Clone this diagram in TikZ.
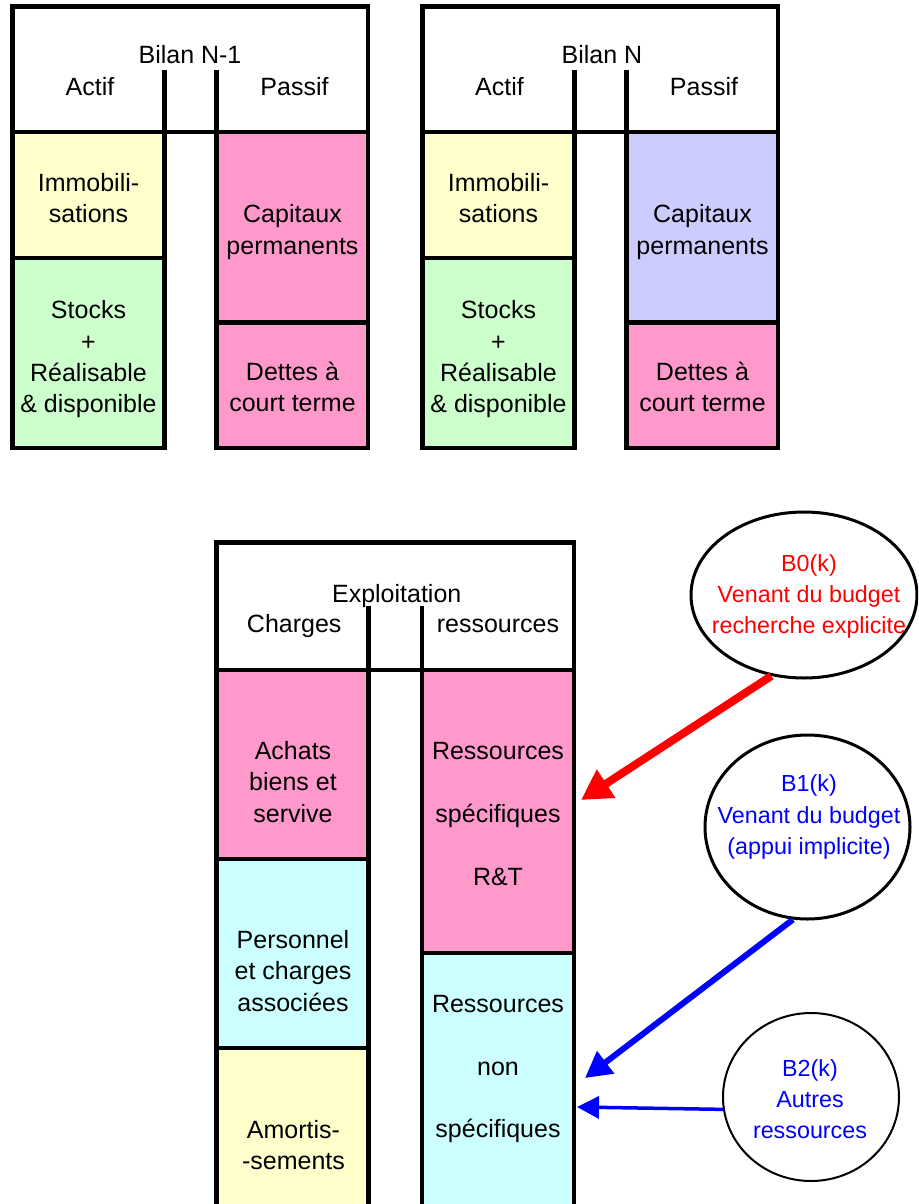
\documentclass[tikz,border=0pt]{standalone}
\usepackage{fontspec}
\setmainfont{Liberation Sans}
\usetikzlibrary{arrows.meta,shapes.geometric,fit}
\definecolor{cyel}{HTML}{FFFFCC}
\definecolor{cgrn}{HTML}{CCFFCC}
\definecolor{cpnk}{HTML}{FF99CC}
\definecolor{ccyn}{HTML}{CCFFFF}
\definecolor{clav}{HTML}{CCCCFF}
\definecolor{cred}{HTML}{FF0000}
\definecolor{cblu}{HTML}{0000FF}
\begin{document}
\begin{tikzpicture}[x=1pt,y=-1pt,
  cell/.style={draw=black, line width=4.5pt, inner sep=0pt, outer sep=0pt},
  divider/.style={draw=black, line width=4.5pt},
  txt/.style={align=center, inner sep=0pt, font=\fontsize{25}{31.3}\selectfont},
  wide/.style={align=center, inner sep=0pt, font=\fontsize{25}{62.8}\selectfont},
  ttl/.style={anchor=base, inner sep=0pt, font=\fontsize{25}{30}\selectfont},
  bubble/.style={ellipse, draw=black, line width=3pt, inner sep=0pt},
  btxt/.style={align=center, inner sep=0pt, font=\fontsize{23.3}{31.2}\selectfont},
]
\path[use as bounding box] (0,0) rectangle (918,1204);
\clip (0,0) rectangle (918,1204);

% ---------------- Bilan N-1 ----------------
\node[cell, fill=white, fit={(12.5,6.5) (368,132)}] (hdrA) {};
\draw[divider] (164.5,70) -- (164.5,132);
\draw[divider] (216.5,70) -- (216.5,132);
\node[cell, fill=cyel, fit={(12.5,132) (164.5,258)}] (immoA) {};
\node[cell, fill=cgrn, fit={(12.5,258) (164.5,448)}] (stockA) {};
\node[cell, fill=cpnk, fit={(216.5,132) (368,322.5)}] (capA) {};
\node[cell, fill=cpnk, fit={(216.5,322.5) (368,448)}] (detteA) {};
\node[ttl] (titleA) at (190,64) {Bilan N-1};
\node[ttl] (actifA) at (90,96) {Actif};
\node[ttl] (passifA) at (294.5,96) {Passif};
\node[txt] (timmoA) at (88.5,198.2) {Immobili-\\sations};
\node[txt] (tstockA) at (88.5,359.2) {Stocks\\+\\Réalisable\\\& disponible};
\node[txt] (tcapA) at (292.5,232) {Capitaux\\permanents};
\node[txt] (tdetteA) at (292.5,387) {Dettes à\\court terme};

% ---------------- Bilan N ----------------
\node[cell, fill=white, fit={(422.5,6.5) (778,132)}] (hdrB) {};
\draw[divider] (574.5,70) -- (574.5,132);
\draw[divider] (626.5,70) -- (626.5,132);
\node[cell, fill=cyel, fit={(422.5,132) (574.5,258)}] (immoB) {};
\node[cell, fill=cgrn, fit={(422.5,258) (574.5,448)}] (stockB) {};
\node[cell, fill=clav, fit={(626.5,132) (778,322.5)}] (capB) {};
\node[cell, fill=cpnk, fit={(626.5,322.5) (778,448)}] (detteB) {};
\node[ttl] (titleB) at (602,64) {Bilan N};
\node[ttl] (actifB) at (499.5,96) {Actif};
\node[ttl] (passifB) at (704,96) {Passif};
\node[txt] (timmoB) at (498.5,198.2) {Immobili-\\sations};
\node[txt] (tstockB) at (498.5,359.2) {Stocks\\+\\Réalisable\\\& disponible};
\node[txt] (tcapB) at (702.5,232) {Capitaux\\permanents};
\node[txt] (tdetteB) at (702.5,387) {Dettes à\\court terme};

% ---------------- Exploitation ----------------
\node[cell, fill=white, fit={(216.5,542.5) (574,670)}] (hdrC) {};
\draw[divider] (368.3,606) -- (368.3,670);
\draw[divider] (422.2,606) -- (422.2,670);
\node[cell, fill=cpnk, fit={(216.5,670) (368.3,859)}] (achats) {};
\node[cell, fill=ccyn, fit={(216.5,859) (368.3,1048)}] (perso) {};
\node[cell, fill=cyel, fit={(216.5,1048) (368.3,1240)}] (amort) {};
\node[cell, fill=cpnk, fit={(422.2,670) (574,953)}] (rspec) {};
\node[cell, fill=ccyn, fit={(422.2,953) (574,1240)}] (rnon) {};
\node[ttl] (titleC) at (396.7,602.7) {Exploitation};
\node[ttl] (charges) at (294.2,632.7) {Charges};
\node[ttl] (ressC) at (498,632.7) {ressources};
\node[txt] (tachats) at (293,781.8) {Achats\\biens et\\servive};
\node[txt] (tperso) at (293,971) {Personnel\\et charges\\associées};
\node[txt] (tamort) at (293.5,1145) {Amortis-\\-sements};
\node[wide] (trspec) at (498,813.8) {Ressources\\spécifiques\\R\&T};
\node[wide] (trnon) at (498,1069) {Ressources\\non\\spécifiques};

% ---------------- Sources ----------------
\node[bubble, minimum width=226pt, minimum height=166pt] (B0) at (804,595) {};
\node[bubble, minimum width=205pt, minimum height=184pt] (B1) at (807.5,827) {};
\node[bubble, line width=2pt, minimum width=176pt, minimum height=168pt] (B2) at (811,1097) {};
\node[btxt, text=cred] (tB0) at (809,596.7) {B0(k)\\Venant du budget\\recherche explicite};
\node[btxt, text=cblu] (tB1) at (809,817) {B1(k)\\Venant du budget\\(appui implicite)};
\node[btxt, text=cblu] (tB2) at (810,1099) {B2(k)\\Autres\\ressources};

\coordinate (tipR) at (581,800);
\coordinate (tipB1) at (585,1078);
\coordinate (tipB2) at (577,1107);
\draw[cred, line width=8pt, -{Triangle[length=30pt,width=32pt]}] (B0.248) -- (tipR);
\draw[cblu, line width=6pt, -{Triangle[length=26pt,width=27pt]}] (B1.261) -- (tipB1);
\draw[cblu, line width=3.5pt, -{Triangle[length=22pt,width=22pt]}] (B2.188) -- (tipB2);
\end{tikzpicture}
\end{document}
